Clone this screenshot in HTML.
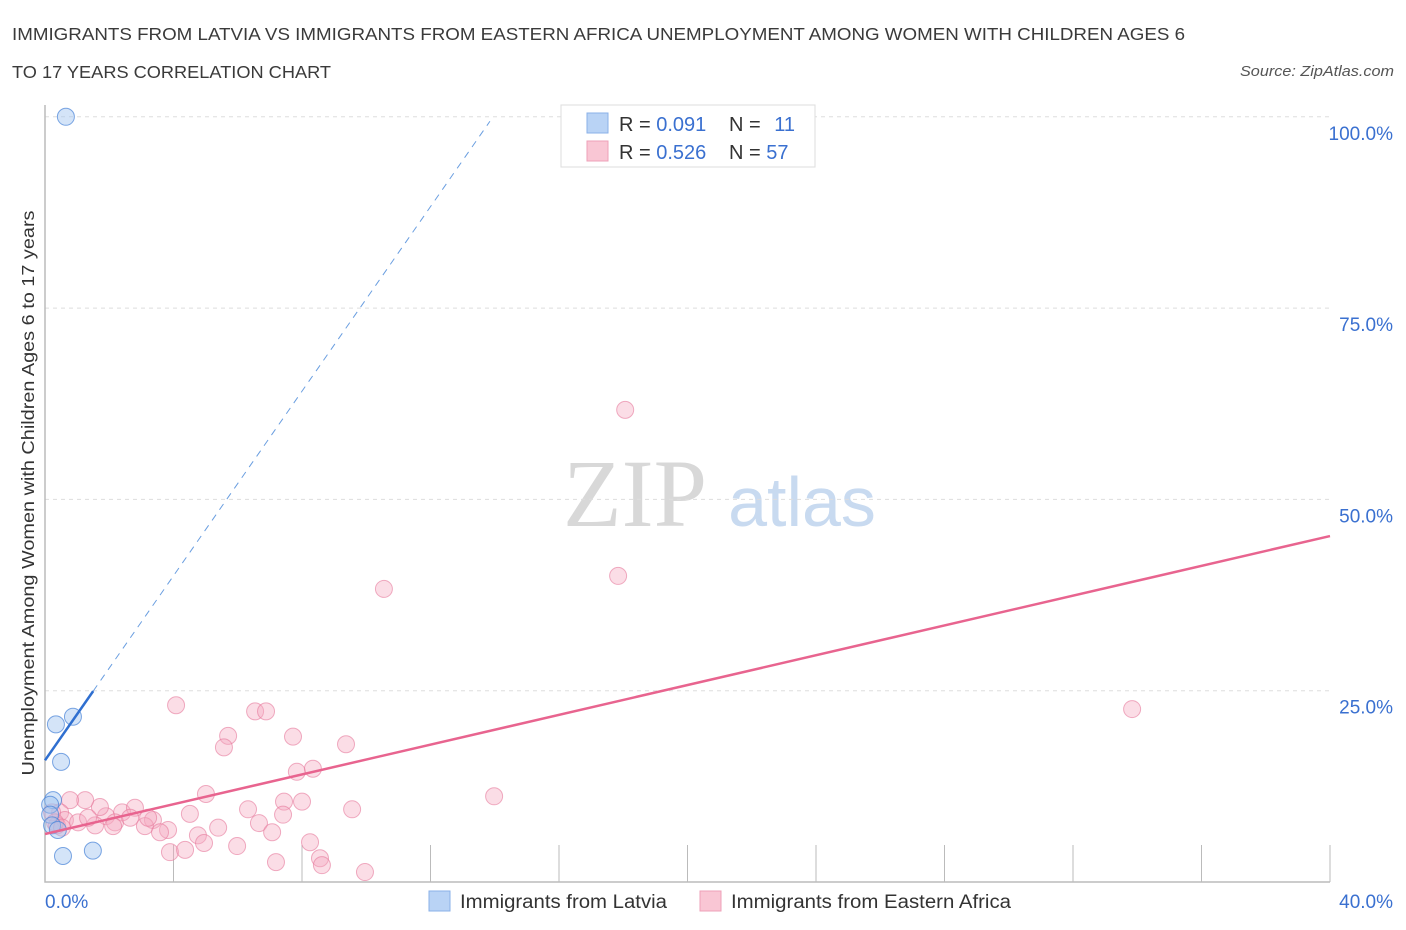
<!DOCTYPE html>
<html><head><meta charset="utf-8">
<style>
body{margin:0;background:#fff;font-family:"Liberation Sans",sans-serif;}
svg{display:block}
</style></head>
<body>
<svg id="chart" width="1406" height="930" xmlns="http://www.w3.org/2000/svg" font-family="Liberation Sans, sans-serif">
<text x="12" y="40" font-size="17.5" fill="#3a3a3a" textLength="1173" lengthAdjust="spacingAndGlyphs">IMMIGRANTS FROM LATVIA VS IMMIGRANTS FROM EASTERN AFRICA UNEMPLOYMENT AMONG WOMEN WITH CHILDREN AGES 6</text>
<text x="12" y="78" font-size="17.5" fill="#3a3a3a" textLength="319" lengthAdjust="spacingAndGlyphs">TO 17 YEARS CORRELATION CHART</text>
<text x="1394" y="76" font-size="15" font-style="italic" fill="#555" text-anchor="end" textLength="154" lengthAdjust="spacingAndGlyphs">Source: ZipAtlas.com</text>
<text transform="translate(34,493) rotate(-90)" font-size="17.5" fill="#333" text-anchor="middle" textLength="565" lengthAdjust="spacingAndGlyphs">Unemployment Among Women with Children Ages 6 to 17 years</text>
<g>
<text x="635" y="526" font-size="96" font-family="Liberation Serif, serif" fill="#d8d8d8" text-anchor="middle">ZIP</text>
<text x="802" y="526" font-size="70" fill="#c8daf0" text-anchor="middle">atlas</text>
</g>
<g id="grid"></g>
<g id="marks"></g>
<g>
<rect x="561" y="105" width="254" height="62" fill="#fff" stroke="#ddd"/>
<rect x="587" y="113" width="21" height="20" fill="#b9d3f5" stroke="#8ab0e8"/>
<rect x="587" y="141" width="21" height="20" fill="#f9c6d4" stroke="#eea0b8"/>
<text x="619" y="131" font-size="20" fill="#333">R = <tspan fill="#3a70d0">0.091</tspan></text>
<text x="729" y="131" font-size="20" fill="#333">N = <tspan fill="#3a70d0" dx="8">11</tspan></text>
<text x="619" y="159" font-size="20" fill="#333">R = <tspan fill="#3a70d0">0.526</tspan></text>
<text x="729" y="159" font-size="20" fill="#333">N = <tspan fill="#3a70d0">57</tspan></text>
</g>
<g>
<rect x="429" y="891" width="21" height="20" fill="#b9d3f5" stroke="#8ab0e8"/>
<text x="460" y="908" font-size="19" fill="#333" textLength="207" lengthAdjust="spacingAndGlyphs">Immigrants from Latvia</text>
<rect x="700" y="891" width="21" height="20" fill="#f9c6d4" stroke="#eea0b8"/>
<text x="731" y="908" font-size="19" fill="#333" textLength="280" lengthAdjust="spacingAndGlyphs">Immigrants from Eastern Africa</text>
</g>
</svg>
<script>
const xTicks=[0,40];
const xTickLabels=["0.0%","40.0%"];
const yTicks=[25,50,75,100];
const yTickLabels=["25.0%","50.0%","75.0%","100.0%"];
const latviaX=[0.65,0.34,0.87,0.5,0.25,0.16,0.16,0.22,0.4,0.56,1.49];
const latviaY=[100,20.6,21.6,15.7,10.7,10.1,8.8,7.4,6.8,3.4,4.1];
const africaX=[18.06,17.84,10.55,33.84,4.08,6.54,6.88,5.70,5.57,7.72,9.37,7.84,8.34,13.98,5.01,7.44,8.00,9.56,6.32,6.66,7.41,4.51,5.39,3.36,2.40,1.90,1.71,1.25,0.78,0.47,0.62,0.37,1.03,1.56,2.18,2.80,2.65,3.11,3.21,3.83,3.58,4.76,4.95,5.98,7.07,8.25,3.89,4.36,7.19,8.56,8.62,9.96,0.22,0.31,0.53,1.34,2.12];
const africaY=[61.7,40.0,38.3,22.6,23.1,22.3,22.3,19.1,17.6,19.0,18.0,14.4,14.8,11.2,11.5,10.5,10.5,9.5,9.5,7.7,8.8,8.9,7.1,8.1,9.1,8.6,9.8,10.7,10.7,9.1,8.1,7.4,7.8,7.4,7.8,9.7,8.4,7.3,8.4,6.8,6.5,6.1,5.1,4.7,6.5,5.2,3.9,4.2,2.6,3.1,2.2,1.3,9.1,7.8,7.1,8.4,7.3];
const latviaTrend=[15.9,6.03]; // intercept, slope
const africaTrend=[6.27,0.9735];
const NS="http://www.w3.org/2000/svg";
const X=v=>45+v/40*1285;
const Y=v=>882-v/25*191.3;
function mk(tag,attrs,parent){const e=document.createElementNS(NS,tag);for(const k in attrs)e.setAttribute(k,attrs[k]);parent.appendChild(e);return e;}
const grid=document.getElementById('grid'),marks=document.getElementById('marks');
yTicks.forEach((t,i)=>{
 const l=mk('line',{x1:45,x2:1330,y1:Y(t),y2:Y(t),stroke:'#ddd','stroke-dasharray':'4,4'},grid);
 
 
 const tx=mk('text',{x:1393,y:Y(t)+23,'font-size':19,fill:'#3a70d0','text-anchor':'end'},grid);
 tx.textContent=yTickLabels[i];
 
 
});
for(let i=1;i<=10;i++){
 const l=mk('line',{x1:X(i*4),x2:X(i*4),y1:845,y2:882,stroke:'#bbb'},grid);
 
 
}
const ax=mk('path',{d:'M45,105 V882 H1330',fill:'none',stroke:'#bbb','stroke-width':1.5},grid);


xTicks.forEach((t,i)=>{
 const tx=mk('text',{x:i==0?45:1393,y:908,'font-size':19,fill:'#3a70d0','text-anchor':i==0?'start':'end'},grid);
 tx.textContent=xTickLabels[i];
 
 
});
africaX.forEach((v,i)=>{
 const c=mk('circle',{cx:X(v),cy:Y(africaY[i]),r:8.5,fill:'rgba(246,170,192,0.4)',stroke:'rgba(230,120,155,0.6)','stroke-width':1},marks);
 
 
});
latviaX.forEach((v,i)=>{
 const c=mk('circle',{cx:X(v),cy:Y(latviaY[i]),r:8.5,fill:'rgba(160,196,240,0.45)',stroke:'rgba(70,130,215,0.7)','stroke-width':1},marks);
 
 
});
const ln=(t,x)=>t[0]+t[1]*x;
const ad=mk('line',{x1:X(1.5),y1:Y(ln(latviaTrend,1.5)),x2:X(13.85),y2:Y(ln(latviaTrend,13.85)),stroke:'#6a9ee0','stroke-width':1,'stroke-dasharray':'7,6'},marks);


const as=mk('line',{x1:X(0),y1:Y(ln(latviaTrend,0)),x2:X(1.5),y2:Y(ln(latviaTrend,1.5)),stroke:'#2f6fd0','stroke-width':2.5},marks);


const at=mk('line',{x1:X(0),y1:Y(ln(africaTrend,0)),x2:X(40),y2:Y(ln(africaTrend,40)),stroke:'#e8648f','stroke-width':2.5},marks);


</script>
</body></html>
